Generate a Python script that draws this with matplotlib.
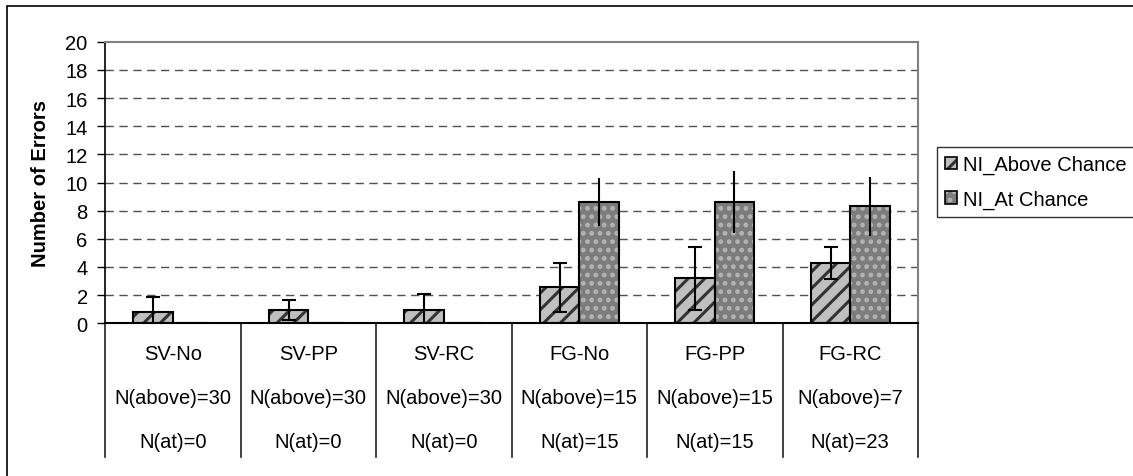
import matplotlib
matplotlib.use("Agg")
import matplotlib.pyplot as plt
import numpy as np
from matplotlib.patches import Patch, Rectangle
from matplotlib.legend_handler import HandlerTuple
import matplotlib.transforms as mtransforms

categories = ['SV-No', 'SV-PP', 'SV-RC', 'FG-No', 'FG-PP', 'FG-RC']
n_above = [30, 30, 30, 15, 15, 7]
n_at = [0, 0, 0, 15, 15, 23]
above_mean = [0.82, 0.93, 0.95, 2.55, 3.2, 4.3]
above_err = [1.07, 0.7, 1.15, 1.73, 2.25, 1.15]
at_mean = [0, 0, 0, 8.6, 8.6, 8.3]
at_err = [0, 0, 0, 1.7, 2.2, 2.1]
series_names = ['NI_Above Chance', 'NI_At Chance']
yticks = list(range(0, 21, 2))

plt.rcParams['font.family'] = ['Liberation Sans', 'DejaVu Sans']
plt.rcParams['hatch.linewidth'] = 2.2

W, H = 1133, 477
fig = plt.figure(figsize=(W / 100, H / 100), dpi=100)
ax = fig.add_axes([105 / W, 1 - 324.3 / H, (918 - 105) / W, (324.3 - 42.7) / H])

x = np.arange(len(categories))
bw = 0.29
FS = 14.5

ABOVE_FACE, ABOVE_HATCH = '#c0c0c0', '#333333'
AT_FACE, AT_HATCH = '#7c7c7c', '#b4b4b4'

# above chance bars
ax.bar(x - bw / 2, above_mean, bw, color=ABOVE_FACE, edgecolor=ABOVE_HATCH, hatch='//', linewidth=0, zorder=2)
ax.bar(x - bw / 2, above_mean, bw, color='none', edgecolor='black', linewidth=1.5, zorder=3)
# at chance bars
ax.bar(x + bw / 2, at_mean, bw, color=AT_FACE, edgecolor=AT_HATCH, hatch='..', linewidth=0, zorder=2)
ax.bar(x + bw / 2, at_mean, bw, color='none', edgecolor='black', linewidth=1.5, zorder=3)

ax.errorbar(x - bw / 2, above_mean, yerr=above_err, fmt='none', ecolor='black', elinewidth=1.5,
            capsize=4.8, capthick=1.5, zorder=4)
ax.errorbar(x + bw / 2, at_mean, yerr=at_err, fmt='none', ecolor='black', elinewidth=1.5,
            capsize=0, zorder=4)

ax.set_xlim(-0.5, len(categories) - 0.5)
ax.set_ylim(0, 20)
ax.set_yticks(yticks)
ax.set_yticklabels([str(t) for t in yticks], fontsize=FS)
ax.set_xticks([])
ax.tick_params(axis='y', direction='out', length=6, width=1, color='black', pad=6.5)

ax.set_axisbelow(True)
for t in yticks[1:-1]:
    ax.axhline(t, color='#505050', linewidth=1, linestyle=(0, (6, 4)), zorder=1)

for s in ['top', 'right']:
    ax.spines[s].set_color('#808080')
    ax.spines[s].set_linewidth(1.5)
ax.spines['left'].set_color('black')
ax.spines['left'].set_linewidth(1.2)
ax.spines['bottom'].set_color('black')
ax.spines['bottom'].set_linewidth(1.5)

ax.set_ylabel('Number of Errors', fontsize=FS, fontweight='bold')
ax.yaxis.set_label_coords(-0.0677, 0.5)

# category table below the axis
trans = mtransforms.blended_transform_factory(ax.transData, ax.transAxes)
for b in np.arange(len(categories) + 1) - 0.5:
    ax.plot([b, b], [0, -0.475], transform=trans, color='#202020', linewidth=1.2, clip_on=False)
for i, c in enumerate(categories):
    ax.text(i, -0.109, c, transform=trans, ha='center', va='center', fontsize=FS)
    ax.text(i, -0.265, f'N(above)={n_above[i]}', transform=trans, ha='center', va='center', fontsize=FS)
    ax.text(i, -0.4215, f'N(at)={n_at[i]}', transform=trans, ha='center', va='center', fontsize=FS)

# legend
h1 = (Patch(facecolor=ABOVE_FACE, edgecolor=ABOVE_HATCH, hatch='//', linewidth=0),
      Patch(facecolor='none', edgecolor='black', linewidth=1.2))
h2 = (Patch(facecolor=AT_FACE, edgecolor=AT_HATCH, hatch='..', linewidth=0),
      Patch(facecolor='none', edgecolor='black', linewidth=1.2))
leg = fig.legend([h1, h2], series_names, loc='upper left', bbox_to_anchor=(937 / W, 1 - 148 / H),
                 fontsize=FS, frameon=True, fancybox=False, shadow=False,
                 handlelength=0.6, handleheight=0.6, handletextpad=0.3, borderpad=0.4,
                 labelspacing=0.75, borderaxespad=0,
                 handler_map={tuple: HandlerTuple(ndivide=1, pad=0)})
leg.get_frame().set_edgecolor('black')
leg.get_frame().set_linewidth(1.0)

# outer chart border
fig.add_artist(Rectangle((7 / W, -0.5), 2.0, 1 - 7 / H + 0.5, transform=fig.transFigure,
                         fill=False, edgecolor='black', linewidth=1.2))

fig.savefig('out.png', dpi=100)
